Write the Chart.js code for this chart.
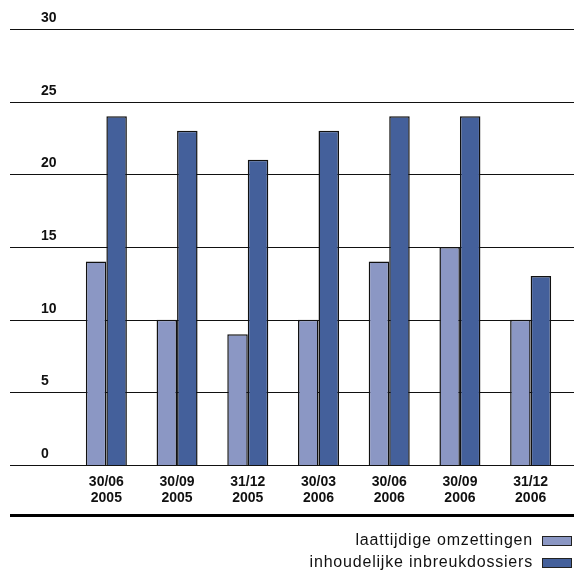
<!DOCTYPE html>
<html>
<head>
<meta charset="utf-8">
<script src="https://cdn.jsdelivr.net/npm/chart.js@4"></script>
<style>
  html, body { margin: 0; padding: 0; background: #fff; }
  #wrap { width: 574px; height: 571px; position: relative; }
</style>
</head>
<body>
<div id="wrap"><canvas id="chart"></canvas></div>
<script>
const categories = [
    ['30/06', '2005'], ['30/09', '2005'], ['31/12', '2005'], ['30/03', '2006'],
    ['30/06', '2006'], ['30/09', '2006'], ['31/12', '2006']
];
const laattijdig = [14, 10, 9, 10, 14, 15, 10];
const inhoudelijk = [24, 23, 21, 23, 24, 24, 13];
const yTicks = [0, 5, 10, 15, 20, 25, 30];
const seriesNames = ['laattijdige omzettingen', 'inhoudelijke inbreukdossiers'];
const colors = ['#8b97c4', '#44609b'];

// grid lines across the whole width, tick labels sitting on top of them
const gridPlugin = {
    id: 'gridAndLabels',
    beforeDatasetsDraw(chart) {
        const ctx = chart.ctx;
        const y = chart.scales.y;
        ctx.save();
        ctx.strokeStyle = '#111';
        ctx.lineWidth = 1;
        ctx.fillStyle = '#111';
        ctx.font = 'bold 14px "Liberation Sans", Arial, sans-serif';
        ctx.textBaseline = 'bottom';
        ctx.textAlign = 'left';
        yTicks.forEach(v => {
            const py = Math.round(y.getPixelForValue(v)) + 0.5;
            ctx.beginPath();
            ctx.moveTo(10, py);
            ctx.lineTo(chart.width, py);
            ctx.stroke();
            ctx.fillText(String(v), 41, py - 4);
        });
        ctx.restore();
    },
    afterDraw(chart) {
        const ctx = chart.ctx;
        ctx.save();
        // thick rule under the axis labels
        ctx.fillStyle = '#000';
        ctx.fillRect(10, 514, chart.width - 10, 3);
        // legend: text right aligned, swatch on the right
        ctx.font = '16px "Liberation Sans", Arial, sans-serif';
        ctx.letterSpacing = '0.8px';
        ctx.textAlign = 'right';
        ctx.textBaseline = 'middle';
        const rows = [541, 563];
        seriesNames.forEach((name, i) => {
            ctx.fillStyle = '#111';
            ctx.fillText(name, 533, rows[i]);
            ctx.fillStyle = colors[i];
            ctx.fillRect(542, rows[i] - 5, 30, 10);
            ctx.strokeStyle = '#222';
            ctx.lineWidth = 1;
            ctx.strokeRect(542.5, rows[i] - 4.5, 29, 9);
        });
        ctx.restore();
    }
};

new Chart(document.getElementById('chart'), {
    type: 'bar',
    data: {
        labels: categories,
        datasets: [
            {
                label: seriesNames[0],
                data: laattijdig,
                backgroundColor: colors[0],
                borderColor: '#111',
                borderWidth: 1.5
            },
            {
                label: seriesNames[1],
                data: inhoudelijk,
                backgroundColor: colors[1],
                borderColor: '#111',
                borderWidth: 1.5
            }
        ]
    },
    options: {
        responsive: true,
        maintainAspectRatio: false,
        animation: false,
        layout: { padding: { top: 29, left: 71, right: 8, bottom: 55 } },
        categoryPercentage: 0.58,
        barPercentage: 1.0,
        scales: {
            x: {
                grid: { display: false },
                border: { display: false },
                ticks: {
                    color: '#111',
                    padding: 1,
                    font: { family: '"Liberation Sans", Arial, sans-serif', size: 14, weight: 'bold', lineHeight: 1.15 }
                },
                afterFit: s => { s.height = 51; }
            },
            y: {
                display: false,
                min: 0,
                max: 30
            }
        },
        plugins: {
            legend: { display: false },
            tooltip: { enabled: false }
        }
    },
    plugins: [gridPlugin]
});
</script>
</body>
</html>
